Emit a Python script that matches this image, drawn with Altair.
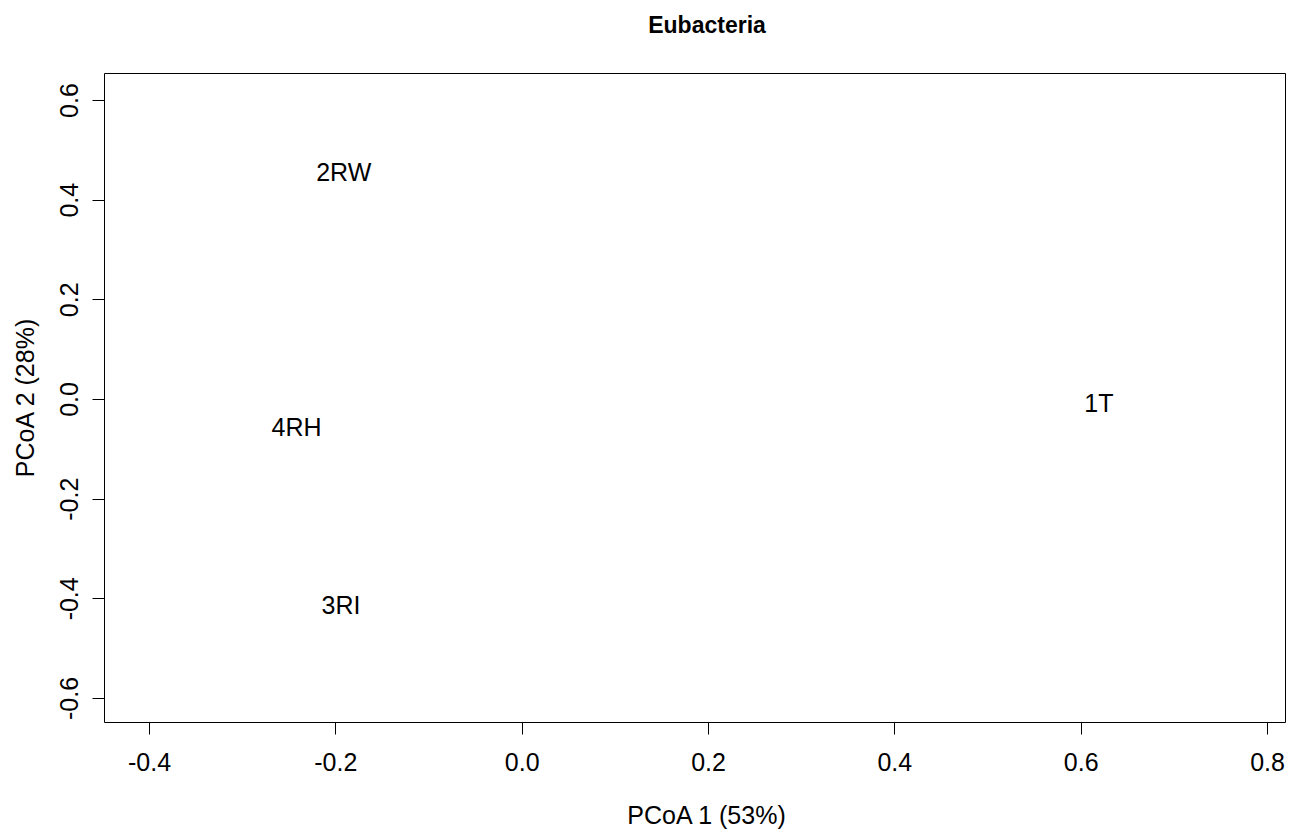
import altair as alt
import pandas as pd

labels = ["1T", "2RW", "3RI", "4RH"]
pcoa1 = [0.6196, -0.191, -0.194, -0.2417]
pcoa2 = [-0.007, 0.4556, -0.413, -0.0542]

x_ticks = [-0.4, -0.2, 0.0, 0.2, 0.4, 0.6, 0.8]
y_ticks = [-0.6, -0.4, -0.2, 0.0, 0.2, 0.4, 0.6]

df = pd.DataFrame({"label": labels, "x": pcoa1, "y": pcoa2})

FONT = "Liberation Sans, Arial, sans-serif"
LABEL_EXPR = "replace(format(datum.value, '.1f'), '\u2212', '-')"

x_axis = alt.Axis(
    values=x_ticks, labelExpr=LABEL_EXPR, grid=False, domain=False,
    tickColor="black", tickSize=12, tickWidth=1,
    labelFont=FONT, labelFontSize=25, labelColor="black",
    labelBaseline="alphabetic", labelPadding=36, labelAlign="center",
    labelFlush=False, labelOverlap=False,
    title="PCoA 1 (53%)", titleFont=FONT, titleFontSize=25, titleFontWeight="normal",
    titleColor="black", titleX=602, titleY=101, titleBaseline="alphabetic",
    titleAlign="center",
)
y_axis = alt.Axis(
    values=y_ticks, labelExpr=LABEL_EXPR, grid=False, domain=False,
    tickColor="black", tickSize=12, tickWidth=1,
    labelFont=FONT, labelFontSize=25, labelColor="black",
    labelAngle=270, labelAlign="center", labelBaseline="alphabetic",
    labelPadding=15, labelFlush=False, labelOverlap=False,
    title="PCoA 2 (28%)", titleFont=FONT, titleFontSize=25, titleFontWeight="normal",
    titleColor="black", titleAngle=270, titleX=-71, titleY=324.5,
    titleBaseline="alphabetic", titleAlign="center",
)

chart = alt.Chart(df).mark_text(
    font=FONT, fontSize=25, color="black", baseline="middle", align="center", dy=1.5
).encode(
    x=alt.X("x:Q", scale=alt.Scale(domain=[-0.4483, 0.8193], nice=False, zero=False), axis=x_axis),
    y=alt.Y("y:Q", scale=alt.Scale(domain=[-0.6482, 0.6542], nice=False, zero=False), axis=y_axis),
    text="label:N",
).properties(
    width=1181, height=649,
    padding={"left": 104, "top": 73, "right": 12, "bottom": 107},
    autosize="none",
    background="white",
    title=alt.TitleParams(
        "Eubacteria", font=FONT, fontSize=23, fontWeight="bold", color="black",
        anchor="middle", frame="group", dx=12.5, offset=17, baseline="alphabetic",
    ),
).configure_view(
    stroke="black", strokeWidth=1
)

chart.save("out.html", embed_options={"renderer": "svg", "actions": False})
